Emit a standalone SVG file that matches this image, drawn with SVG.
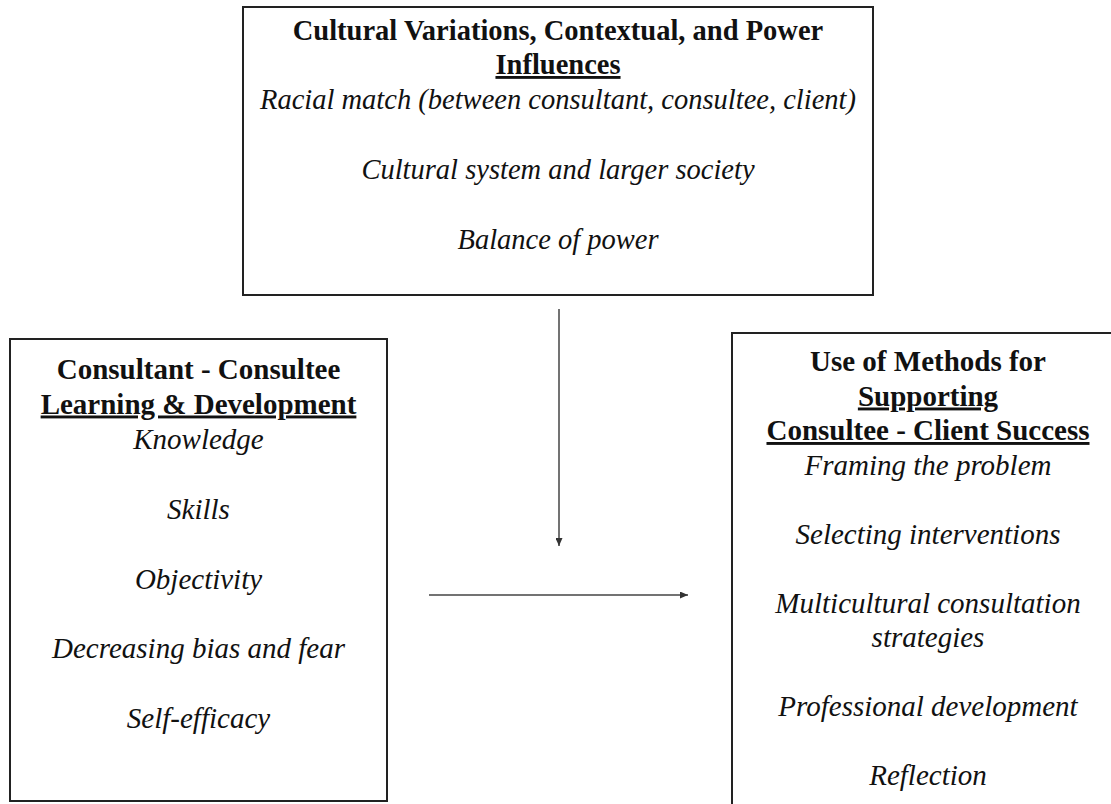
<svg xmlns="http://www.w3.org/2000/svg" width="1111" height="804" viewBox="0 0 1111 804">
  <defs>
    <marker id="arrow" viewBox="0 0 8 7" refX="8" refY="3.5" markerWidth="8" markerHeight="7" markerUnits="userSpaceOnUse" orient="auto">
      <path d="M0,0 L8,3.5 L0,7 Z" fill="#333"/>
    </marker>
    <style>
      .box { fill: #fff; stroke: #222; stroke-width: 2; }
      .head { font-family: "Liberation Serif", "Times New Roman", serif; font-weight: bold; fill: #111; text-anchor: middle; }
      .item { font-family: "Liberation Serif", "Times New Roman", serif; font-style: italic; fill: #111; text-anchor: middle; }
      .u { text-decoration: underline; }
      .conn { stroke: #444; stroke-width: 1.5; fill: none; marker-end: url(#arrow); }
    </style>
  </defs>
  <rect width="1111" height="804" fill="#fff"/>

  <!-- Moderating influences -->
  <g id="influences" font-size="28.5">
    <rect class="box" x="243" y="7" width="630" height="288"/>
    <text class="head" x="558" y="39.5">Cultural Variations, Contextual, and Power</text>
    <text class="head u" x="558" y="74">Influences</text>
    <text class="item" x="558" y="108.5">Racial match (between consultant, consultee, client)</text>
    <text class="item" x="558" y="178.5">Cultural system and larger society</text>
    <text class="item" x="558" y="248.5">Balance of power</text>
  </g>

  <!-- Learning and development outcomes -->
  <g id="learning" font-size="29">
    <rect class="box" x="10" y="339" width="377" height="462"/>
    <text class="head" x="198.5" y="379">Consultant - Consultee</text>
    <text class="head u" x="198.5" y="413.5">Learning &amp; Development</text>
    <text class="item" x="198.5" y="448.5">Knowledge</text>
    <text class="item" x="198.5" y="518.5">Skills</text>
    <text class="item" x="198.5" y="588.5">Objectivity</text>
    <text class="item" x="198.5" y="658">Decreasing bias and fear</text>
    <text class="item" x="198.5" y="728">Self-efficacy</text>
  </g>

  <!-- Methods supporting consultee-client success -->
  <g id="methods" font-size="29">
    <rect class="box" x="732" y="333" width="392" height="490"/>
    <text class="head" x="928" y="371">Use of Methods for</text>
    <text class="head u" x="928" y="405.5">Supporting</text>
    <text class="head u" x="928" y="440">Consultee - Client Success</text>
    <text class="item" x="928" y="474.5">Framing the problem</text>
    <text class="item" x="928" y="543.5">Selecting interventions</text>
    <text class="item" x="928" y="612.5">Multicultural consultation</text>
    <text class="item" x="928" y="647">strategies</text>
    <text class="item" x="928" y="716">Professional development</text>
    <text class="item" x="928" y="785">Reflection</text>
  </g>

  <!-- Connectors -->
  <g id="connectors">
    <line class="conn" x1="559" y1="309" x2="559" y2="546"/>
    <line class="conn" x1="429" y1="595" x2="688" y2="595"/>
  </g>
</svg>
